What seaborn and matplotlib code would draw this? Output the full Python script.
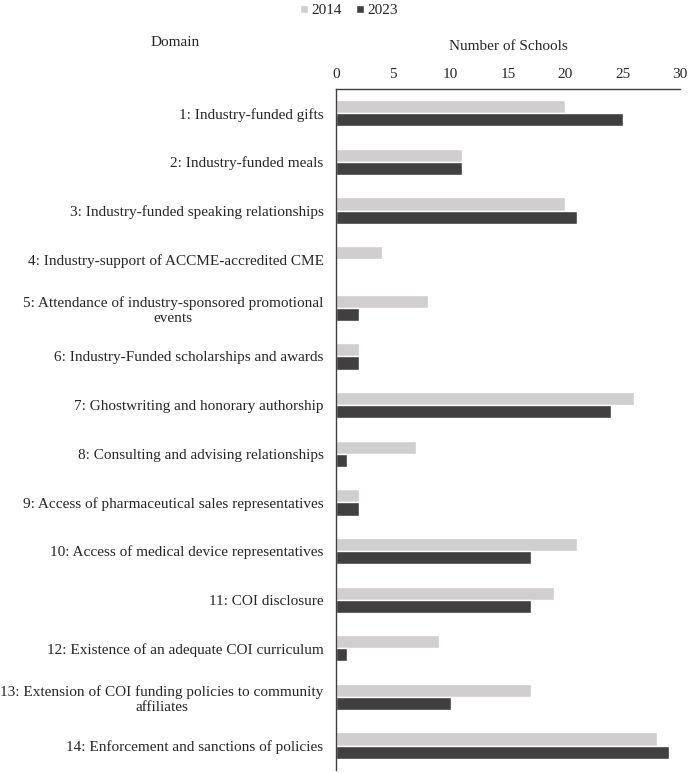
import pandas as pd
import seaborn as sns
import matplotlib.pyplot as plt

# dados
domains = [
    "1: Industry-funded gifts",
    "2: Industry-funded meals",
    "3: Industry-funded speaking relationships",
    "4: Industry-support of ACCME-accredited CME",
    "5: Attendance of industry-sponsored promotional\nevents",
    "6: Industry-Funded scholarships and awards",
    "7: Ghostwriting and honorary authorship",
    "8: Consulting and advising relationships",
    "9: Access of pharmaceutical sales representatives",
    "10: Access of medical device representatives",
    "11: COI disclosure",
    "12: Existence of an adequate COI curriculum",
    "13: Extension of COI funding policies to community\naffiliates",
    "14: Enforcement and sanctions of policies",
]
schools_2014 = [20, 11, 20, 4, 8, 2, 26, 7, 2, 21, 19, 9, 17, 28]
schools_2023 = [25, 11, 21, 0, 2, 2, 24, 1, 2, 17, 17, 1, 10, 29]
years = ["2014", "2023"]

df = pd.DataFrame({
    "Domain": domains * 2,
    "Schools": schools_2014 + schools_2023,
    "Year": [years[0]] * len(domains) + [years[1]] * len(domains),
})

sns.set_style("white")
plt.rcParams["font.family"] = ["Liberation Serif", "DejaVu Serif"]

fig = plt.figure(figsize=(6.9, 7.73), dpi=100)
ax = fig.add_axes([0.487, 0.004, 0.4985, 0.881])

sns.barplot(data=df, y="Domain", x="Schools", hue="Year", orient="h",
            palette=["#D0CECE", "#404040"], width=0.54, gap=0,
            saturation=1, ax=ax, legend=True)

ax.set_xlim(0, 30)
ax.set_ylim(13.5, -0.5)
ax.set_xticks(range(0, 31, 5))
ax.xaxis.tick_top()
ax.xaxis.set_label_position("top")
ax.set_xlabel("Number of Schools", fontsize=11, labelpad=13)
ax.set_ylabel("")
ax.tick_params(axis="x", length=0, pad=6, labelsize=11)
ax.tick_params(axis="y", length=0, pad=9, labelsize=11)
for lbl in ax.get_yticklabels():
    lbl.set_multialignment("center")

for s in ["right", "bottom"]:
    ax.spines[s].set_visible(False)
for s in ["top", "left"]:
    ax.spines[s].set_color("#404040")
    ax.spines[s].set_linewidth(1.0)

fig.text(175 / 690, 1 - 43 / 773, "Domain", ha="center", va="center", fontsize=11)

h, l = ax.get_legend_handles_labels()
ax.get_legend().remove()
fig.legend(h, l, loc="center", bbox_to_anchor=(0.506, 1 - 11 / 773), ncol=2,
           frameon=False, fontsize=11, handlelength=0.5, handleheight=0.5,
           handletextpad=0.25, columnspacing=0.9)

plt.savefig("out.png", dpi=100)
